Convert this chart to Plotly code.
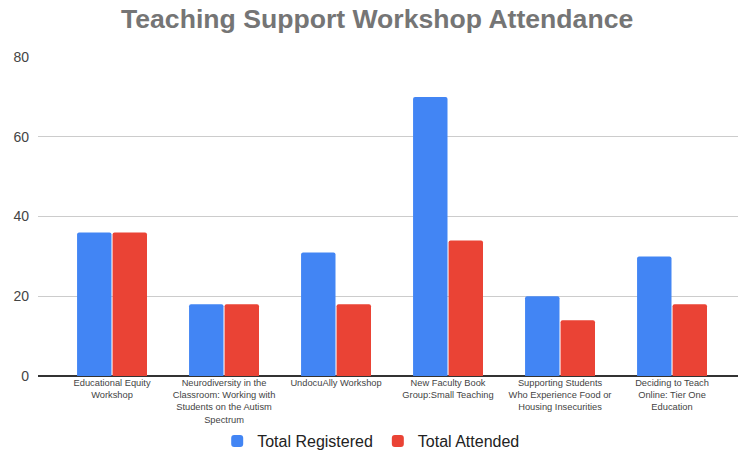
import plotly.graph_objects as go

categories = [
    "Educational Equity<br>Workshop",
    "Neurodiversity in the<br>Classroom: Working with<br>Students on the Autism<br>Spectrum",
    "UndocuAlly Workshop",
    "New Faculty Book<br>Group:Small Teaching",
    "Supporting Students<br>Who Experience Food or<br>Housing Insecurities",
    "Deciding to Teach<br>Online: Tier One<br>Education",
]
total_registered = [36, 18, 31, 70, 20, 30]
total_attended = [36, 18, 18, 34, 14, 18]
y_ticks = [0, 20, 40, 60, 80]

fig = go.Figure()
fig.add_trace(go.Bar(name="Total Registered", x=categories, y=total_registered,
                     marker=dict(color="#4285F4", line=dict(width=0))))
fig.add_trace(go.Bar(name="Total Attended", x=categories, y=total_attended,
                     marker=dict(color="#EA4335", line=dict(width=0))))

fig.update_layout(
    width=738, height=452,
    margin=dict(l=38, r=0, t=57, b=76, autoexpand=False),
    paper_bgcolor="white", plot_bgcolor="white",
    font=dict(family="Liberation Sans, Arial, sans-serif"),
    title=dict(text="<b>Teaching Support Workshop Attendance</b>",
               x=0.511, xanchor="center", y=0.958, yanchor="middle",
               font=dict(size=26.6, color="#757575")),
    barmode="group", bargap=0.366, bargroupgap=0.03,
    barcornerradius=2,
    showlegend=True,
    legend=dict(orientation="h", x=0.476, xanchor="center", y=-0.204, yanchor="middle",
                font=dict(size=16, color="#222222"), itemwidth=30,
                traceorder="normal"),
    xaxis=dict(range=[-0.661, 5.589], showgrid=False, tickfont=dict(size=9.3, color="#444444"),
               showline=False, ticks="", zeroline=False, tickangle=0, fixedrange=True,
               automargin=False),
    yaxis=dict(range=[0, 80], tickvals=y_ticks, showgrid=True, gridcolor="#cccccc",
               gridwidth=1, zeroline=True, zerolinecolor="#333333", zerolinewidth=1.5,
               tickfont=dict(size=14, color="#444444"), ticks="", ticklabelstandoff=8,
               showline=False, automargin=False),
)

fig.write_html("out.html", config={"displayModeBar": False},
               post_script="document.body.style.margin='0';")
